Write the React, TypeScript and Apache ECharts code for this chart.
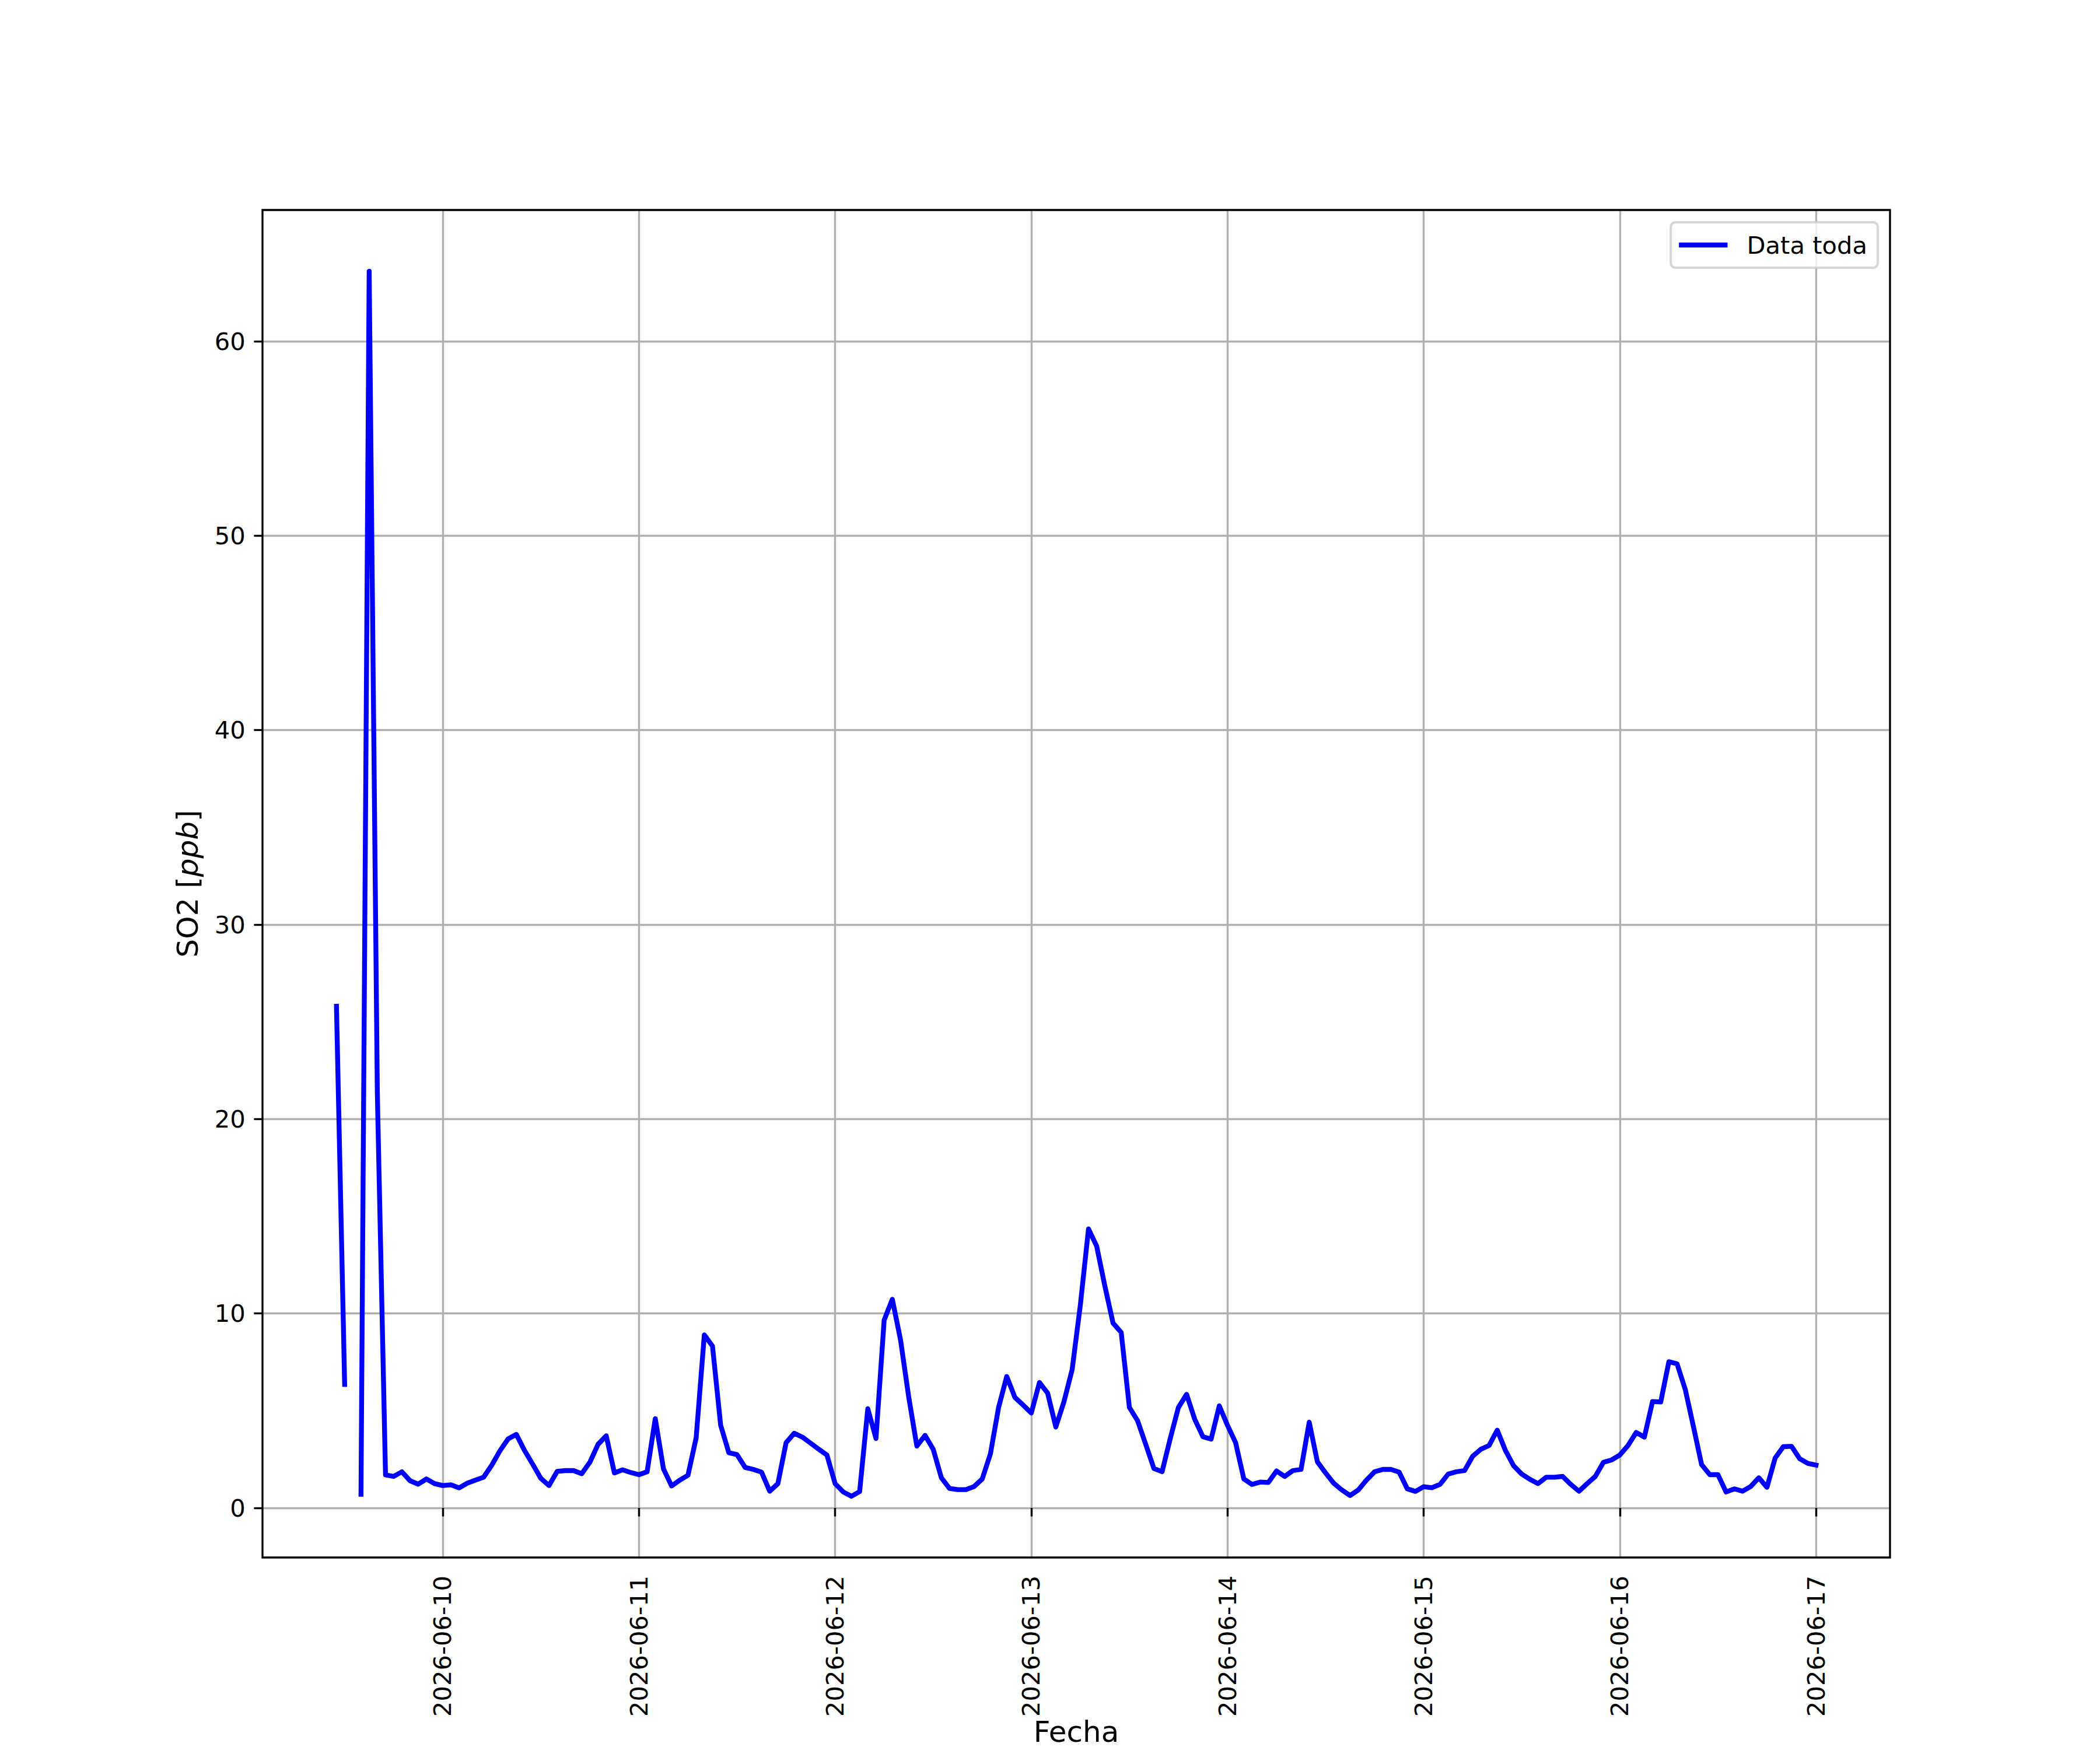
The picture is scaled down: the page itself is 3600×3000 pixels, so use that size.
import React, { useEffect, useRef } from "react";
import * as echarts from "echarts";

// Hourly SO2 readings, first reading at 2026-06-09 11:00 (null = missing hour)
const START_Y = 2026;
const START_M = 5; // June (0-based)
const START_D = 9;
const START_H = 11;

const so2_0609: (number | null)[] = [25.8, 6.35, null, 0.7, 63.6, 21.3, 1.7, 1.62, 1.86, 1.4, 1.22, 1.49, 1.25];
const so2_0610: (number | null)[] = [1.15, 1.19, 1.03, 1.27, 1.43, 1.58, 2.2, 2.94, 3.55, 3.78, 2.96, 2.25, 1.52, 1.15, 1.88, 1.92, 1.92, 1.76, 2.35, 3.27, 3.71, 1.8, 1.96, 1.82];
const so2_0611: (number | null)[] = [1.71, 1.86, 4.59, 2.01, 1.13, 1.43, 1.68, 3.6, 8.9, 8.32, 4.25, 2.84, 2.74, 2.08, 1.98, 1.84, 0.86, 1.25, 3.35, 3.84, 3.64, 3.33, 3.02, 2.72];
const so2_0612: (number | null)[] = [1.25, 0.82, 0.6, 0.84, 5.1, 3.57, 9.66, 10.73, 8.65, 5.72, 3.18, 3.73, 3.02, 1.55, 1.0, 0.94, 0.94, 1.1, 1.49, 2.78, 5.17, 6.76, 5.68, 5.29];
const so2_0613: (number | null)[] = [4.88, 6.45, 5.9, 4.16, 5.47, 7.12, 10.43, 14.35, 13.46, 11.41, 9.51, 9.02, 5.17, 4.49, 3.27, 2.03, 1.86, 3.57, 5.17, 5.84, 4.55, 3.66, 3.54, 5.25];
const so2_0614: (number | null)[] = [4.25, 3.35, 1.49, 1.21, 1.33, 1.31, 1.9, 1.62, 1.92, 1.98, 4.41, 2.37, 1.8, 1.27, 0.92, 0.64, 0.92, 1.43, 1.86, 1.98, 1.98, 1.84, 0.98, 0.85];
const so2_0615: (number | null)[] = [1.09, 1.04, 1.21, 1.74, 1.86, 1.92, 2.66, 3.02, 3.21, 4.0, 2.96, 2.17, 1.74, 1.47, 1.25, 1.58, 1.58, 1.62, 1.21, 0.86, 1.25, 1.62, 2.35, 2.47];
const so2_0616: (number | null)[] = [2.72, 3.21, 3.88, 3.64, 5.47, 5.45, 7.52, 7.41, 6.1, 4.19, 2.23, 1.71, 1.71, 0.82, 0.98, 0.86, 1.1, 1.55, 1.06, 2.57, 3.15, 3.17, 2.53, 2.29];
const so2_0617: (number | null)[] = [2.2];

const xTickDates = ["2026-06-10", "2026-06-11", "2026-06-12", "2026-06-13", "2026-06-14", "2026-06-15", "2026-06-16", "2026-06-17"];
const yTicks = [0, 10, 20, 30, 40, 50, 60];

const seriesName = "Data toda";
const xTitle = "Fecha";

const allValues = [
  ...so2_0609, ...so2_0610, ...so2_0611, ...so2_0612, ...so2_0613,
  ...so2_0614, ...so2_0615, ...so2_0616, ...so2_0617,
];

const pad2 = (n: number) => (n < 10 ? "0" + n : "" + n);
const fmtDate = (v: number) => {
  const d = new Date(v);
  return d.getFullYear() + "-" + pad2(d.getMonth() + 1) + "-" + pad2(d.getDate());
};
const parseDate = (s: string) => {
  const [y, m, d] = s.split("-").map(Number);
  return new Date(y, m - 1, d).getTime();
};

const PT = 300 / 72; // px per point at 300 dpi

export default function App() {
  const ref = useRef<HTMLDivElement>(null);

  useEffect(() => {
    if (!ref.current) return;
    const chart = echarts.init(ref.current, undefined, { renderer: "svg" });

    const data = allValues.map((v, i) => [
      new Date(START_Y, START_M, START_D, START_H + i).getTime(),
      v,
    ]);
    const xs = data.map((d) => d[0] as number);
    const xMin0 = Math.min(...xs);
    const xMax0 = Math.max(...xs);
    const xr = xMax0 - xMin0;
    const nums = allValues.filter((v) => v !== null) as number[];
    const yMin0 = Math.min(...nums);
    const yMax0 = Math.max(...nums);
    const yr = yMax0 - yMin0;

    const tickFont = 10 * PT;
    const labelFont = 12 * PT;
    const lw = 0.8 * PT;
    const tickLen = 3.5 * PT;

    const xTickVals = xTickDates.map(parseDate);

    const font = "DejaVu Sans";

    chart.setOption({
      animation: false,
      backgroundColor: "#ffffff",
      grid: {
        left: 450,
        top: 360,
        width: 2790,
        height: 2310,
        show: true,
        borderColor: "#000000",
        borderWidth: lw,
        backgroundColor: "transparent",
        containLabel: false,
        outerBoundsMode: "none",
        z: 3,
      },
      legend: {
        show: true,
        right: 381,
        top: 381,
        orient: "vertical",
        icon: "rect",
        itemWidth: 2 * tickFont,
        itemHeight: 2 * PT,
        padding: [14, 18, 14, 14],
        backgroundColor: "rgba(255,255,255,0.8)",
        borderColor: "rgba(204,204,204,0.8)",
        borderWidth: PT,
        borderRadius: 8,
        textStyle: {
          fontFamily: font,
          fontSize: tickFont,
          color: "#000000",
          padding: [0, 0, 0, 28],
          lineHeight: 50,
        },
        data: [seriesName],
      },
      xAxis: {
        type: "value",
        min: xMin0 - 0.05 * xr,
        max: xMax0 + 0.05 * xr,
        axisLine: { show: false },
        axisTick: {
          show: true,
          customValues: xTickVals,
          length: tickLen,
          inside: false,
          lineStyle: { color: "#000000", width: lw },
        },
        axisLabel: {
          show: true,
          customValues: xTickVals,
          rotate: 90,
          margin: 31,
          fontFamily: font,
          fontSize: tickFont,
          color: "#000000",
          formatter: (v: number) => fmtDate(v),
        },
        splitLine: {
          show: true,
          lineStyle: { color: "#b0b0b0", width: lw },
        },
      },
      yAxis: {
        type: "value",
        min: yMin0 - 0.05 * yr,
        max: yMax0 + 0.05 * yr,
        axisLine: { show: false },
        axisTick: {
          show: true,
          customValues: yTicks,
          length: tickLen,
          inside: false,
          lineStyle: { color: "#000000", width: lw },
        },
        axisLabel: {
          show: true,
          customValues: yTicks,
          margin: tickLen + 3.5 * PT,
          fontFamily: font,
          fontSize: tickFont,
          color: "#000000",
        },
        splitLine: {
          show: true,
          lineStyle: { color: "#b0b0b0", width: lw },
        },
      },
      series: [
        {
          name: seriesName,
          type: "line",
          data,
          showSymbol: false,
          symbol: "none",
          connectNulls: false,
          color: "#0000ff",
          lineStyle: { color: "#0000ff", width: 2 * PT, cap: "square", join: "round" },
          emphasis: { disabled: true },
          z: 2,
        },
      ],
      graphic: [
        {
          type: "text",
          x: 1845,
          y: 2998,
          style: {
            text: xTitle,
            fontFamily: font,
            fontSize: labelFont,
            lineHeight: 58,
            fill: "#000000",
            align: "center",
            verticalAlign: "bottom",
          },
        },
        {
          type: "text",
          x: 322,
          y: 1515,
          rotation: Math.PI / 2,
          style: {
            text: "{a|SO2 [}{b|ppb}{a|]}",
            align: "center",
            verticalAlign: "middle",
            rich: {
              a: { fontFamily: font, fontSize: labelFont, fill: "#000000" },
              b: { fontFamily: font, fontSize: labelFont, fontStyle: "italic", fill: "#000000" },
            },
          },
        },
      ],
    });

    return () => chart.dispose();
  }, []);

  return (
    <div
      ref={ref}
      style={{ position: "absolute", left: 0, top: 0, width: 3600, height: 3000, background: "#ffffff" }}
    />
  );
}
